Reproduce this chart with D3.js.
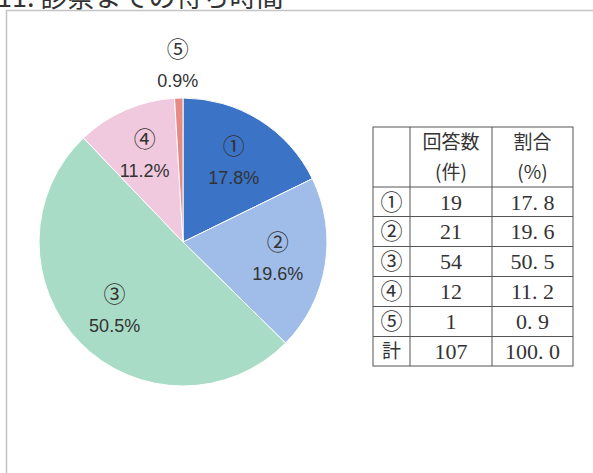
<!DOCTYPE html>
<html>
<head>
<meta charset="utf-8">
<script src="https://cdn.jsdelivr.net/npm/d3@7"></script>
<style>
body { margin: 0; background: #fff; }
svg { display: block; }
</style>
</head>
<body>
<div id="chart"></div>
<script>
// 11. 診察までの待ち時間
var marks = ["①", "②", "③", "④", "⑤"];
var counts = [19, 21, 54, 12, 1];
var pcts = ["17.8", "19.6", "50.5", "11.2", "0.9"];
var colors = ["#3b73c6", "#9fbde8", "#a9dcc6", "#f1c9de", "#e58a84"];
var totalCount = 107, totalPct = "100.0";

var width = 593, height = 473;
var svg = d3.select("#chart").append("svg")
    .attr("width", width)
    .attr("height", height);

// title (cut at top of scan)
svg.append("text")
    .attr("x", -3).attr("y", 7)
    .attr("font-family", "Noto Sans CJK JP, sans-serif")
    .attr("font-size", 27)
    .attr("fill", "#333")
    .text("11. 診察までの待ち時間");

// frame
svg.append("rect")
    .attr("x", 6.5).attr("y", 10.5)
    .attr("width", 600).attr("height", 480)
    .attr("fill", "#fff")
    .attr("stroke", "#c4c4c4")
    .attr("stroke-width", 1.5);

var cx = 183, cy = 242, r = 144;
var g = svg.append("g").attr("transform", "translate(" + cx + "," + cy + ")");

var pie = d3.pie().sort(null).value(function(d) { return d; });
var arcs = pie(counts);
var arc = d3.arc().innerRadius(0).outerRadius(r);
var labelArc = d3.arc().innerRadius(96).outerRadius(96);
var outerArc = d3.arc().innerRadius(178).outerRadius(178);

g.selectAll("path.slice")
    .data(arcs)
    .enter().append("path")
    .attr("class", "slice")
    .attr("d", arc)
    .attr("fill", function(d, i) { return colors[i]; })
    .attr("stroke", "#fff")
    .attr("stroke-width", 1);

var lbl = g.selectAll("g.lbl")
    .data(arcs)
    .enter().append("g")
    .attr("class", "lbl")
    .attr("transform", function(d, i) {
        var c = (d.endAngle - d.startAngle < 0.1 ? outerArc : labelArc).centroid(d);
        return "translate(" + c[0] + "," + c[1] + ")";
    });

lbl.append("text")
    .attr("text-anchor", "middle")
    .attr("y", -7)
    .attr("font-family", "Noto Sans CJK JP, sans-serif")
    .attr("font-size", 22)
    .attr("fill", "#333")
    .text(function(d, i) { return marks[i]; });

lbl.append("text")
    .attr("text-anchor", "middle")
    .attr("y", 23)
    .attr("font-family", "Liberation Sans, Arial, sans-serif")
    .attr("font-size", 18)
    .attr("fill", "#333")
    .text(function(d, i) { return pcts[i] + "%"; });

// table
var tx = [373, 410, 492, 573];
var ty = [127, 187, 216.5, 246.5, 276.5, 306.5, 336.5, 366];
var tg = svg.append("g");
tg.append("rect")
    .attr("x", tx[0]).attr("y", ty[0])
    .attr("width", tx[3] - tx[0]).attr("height", ty[7] - ty[0])
    .attr("fill", "#fff").attr("stroke", "#555").attr("stroke-width", 1);
tx.slice(1, 3).forEach(function(x) {
    tg.append("line").attr("x1", x).attr("x2", x).attr("y1", ty[0]).attr("y2", ty[7])
        .attr("stroke", "#555");
});
ty.slice(1, 7).forEach(function(y) {
    tg.append("line").attr("x1", tx[0]).attr("x2", tx[3]).attr("y1", y).attr("y2", y)
        .attr("stroke", "#555");
});

var jp = "Noto Sans CJK JP, sans-serif";
function cell(col, rowTop, rowBot, txt, fam, size) {
    tg.append("text")
        .attr("x", (tx[col] + tx[col + 1]) / 2)
        .attr("y", (rowTop + rowBot) / 2)
        .attr("dy", "0.36em")
        .attr("text-anchor", "middle")
        .attr("font-family", fam)
        .attr("font-size", size)
        .attr("fill", "#333")
        .text(txt);
}
cell(1, ty[0], ty[0] + 30, "回答数", jp, 19);
cell(1, ty[0] + 30, ty[1], "(件)", jp, 19);
cell(2, ty[0], ty[0] + 30, "割合", jp, 19);
cell(2, ty[0] + 30, ty[1], "(%)", jp, 19);

var rowHeads = marks.concat(["計"]);
var rowCounts = counts.concat([totalCount]);
var rowPcts = pcts.concat([totalPct]);
rowHeads.forEach(function(h, i) {
    cell(0, ty[i + 1], ty[i + 2], h, jp, i < 5 ? 22 : 19);
    cell(1, ty[i + 1], ty[i + 2], String(rowCounts[i]), "Liberation Serif, serif", 22);
    cell(2, ty[i + 1], ty[i + 2], rowPcts[i].replace(".", ". "), "Liberation Serif, serif", 22);
});
</script>
</body>
</html>
